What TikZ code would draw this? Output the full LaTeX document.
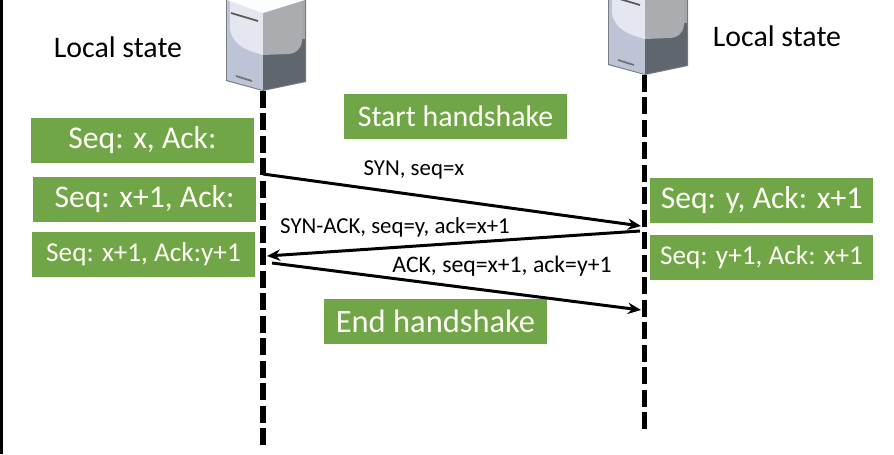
\documentclass[tikz,border=0pt]{standalone}
\usepackage{fontspec}
\setmainfont{Carlito}
\usetikzlibrary{arrows.meta}
\definecolor{boxgreen}{RGB}{112,166,72}
\definecolor{faceLow}{RGB}{188,196,214}
\definecolor{faceHigh}{RGB}{228,231,239}
\definecolor{sideLow}{RGB}{95,102,110}
\definecolor{sideHigh}{RGB}{170,172,176}
\definecolor{serverEdge}{RGB}{120,124,130}
\tikzset{
  statebox/.style={fill=boxgreen, text=white!96!yellow, minimum width=4.46cm, minimum height=0.9cm, inner sep=0pt, font=\fontsize{18}{20}\selectfont},
  smallbox/.style={statebox, font=\fontsize{15.5}{18}\selectfont},
  msglabel/.style={inner sep=0pt, font=\fontsize{13}{15}\selectfont},
  titlelabel/.style={inner sep=0pt, font=\fontsize{17}{19}\selectfont},
  lifeline/.style={line width=3.3pt, dash pattern=on 9.64pt off 3.15pt},
  msgarrow/.style={line width=1.7pt, -{Stealth[length=7.5pt,width=6.5pt]}},
}
\newcommand{\serverbody}[2]{%
  \begin{scope}[shift={(#1,#2)}]
    \fill[serverEdge] (-37,-96)--(-37,-10)--(0,0)--(43,-9)--(43,-96)--cycle;
    \fill[faceLow] (-36,-96)--(-36,-11)--(0,-1)--(0,-96)--cycle;
    \fill[faceHigh] (-33,-96)--(-33,-62) .. controls (-30,-45) and (-15,-40) .. (0,-36)--(0,-96)--cycle;
    \fill[sideLow] (0,-1)--(42,-10)--(42,-96)--(0,-96)--cycle;
    \fill[sideHigh] (0,-78)--(39,-96)--(39,-50) .. controls (38,-42) and (33,-37) .. (24,-37)--(0,-36)--cycle;
    \fill[black!35] (39,-96)--(42,-96)--(42,-52)--(39,-52)--cycle;
    \fill[white!90!faceHigh] (-36,-96)--(42,-96)--(42,-91)--(0,-78)--(-36,-91)--cycle;
    \draw[black!65, line width=1pt] (-32,-78)--(-5,-70);
    \draw[black!55, line width=1pt] (-27,-15)--(-11,-10);
  \end{scope}
}
\begin{document}
\begin{tikzpicture}[x=0.02cm, y=-0.02cm]
    \useasboundingbox (0,0) rectangle (894,454);
    \clip (0,0) rectangle (894,454);
    \fill[black] (0,0) rectangle (3,454);

    % hosts
    \serverbody{263}{91}
    \serverbody{645}{75}

    % time lines
    \coordinate (clientTop) at (263,91);
    \coordinate (clientEnd) at (263,447);
    \coordinate (serverTop) at (644.5,75);
    \coordinate (serverEnd) at (644.5,430);
    \draw [lifeline] (clientTop)--(clientEnd);
    \draw [lifeline] (serverTop)--(serverEnd);

    \node (leftTitle) at (118,47) [titlelabel] {Local state};
    \node (rightTitle) at (777,36) [titlelabel] {Local state};

    \node (seqA) at (142.5,140.5) [statebox] {Seq: x, Ack:};
    \node (seqB) at (144.5,199.5) [statebox] {Seq: x+1, Ack:};
    \node (seqC) at (143.5,254.5) [smallbox] {Seq: x+1, Ack:y+1};
    \node (seqD) at (761.5,200.5) [statebox] {Seq: y, Ack: x+1};
    \node (seqE) at (761.5,257) [smallbox] {Seq: y+1, Ack: x+1};
    \node (startBox) at (455.5,116.5) [statebox, font=\fontsize{17}{19}\selectfont] {Start handshake};
    \node (endBox) at (435.5,321.5) [statebox, font=\fontsize{18.5}{20}\selectfont] {End handshake};

    % messages
    \coordinate (synFrom) at (263,174);
    \coordinate (synTo) at (641,226);
    \coordinate (ackFrom) at (640,231);
    \coordinate (ackTo) at (267,256);
    \coordinate (lastFrom) at (272,263);
    \coordinate (lastTo) at (641,310);
    \draw [msgarrow] (synFrom)--(synTo);
    \draw [msgarrow] (ackFrom)--(ackTo);
    \draw [msgarrow] (lastFrom)--(lastTo);

    \node (synLabel) at (414,169.5) [msglabel] {SYN, seq=x};
    \node (ackLabel) at (395,227) [msglabel] {SYN-ACK, seq=y, ack=x+1};
    \node (lastLabel) at (502,266.5) [msglabel, font=\fontsize{13.5}{15}\selectfont] {ACK, seq=x+1, ack=y+1};
\end{tikzpicture}
\end{document}
